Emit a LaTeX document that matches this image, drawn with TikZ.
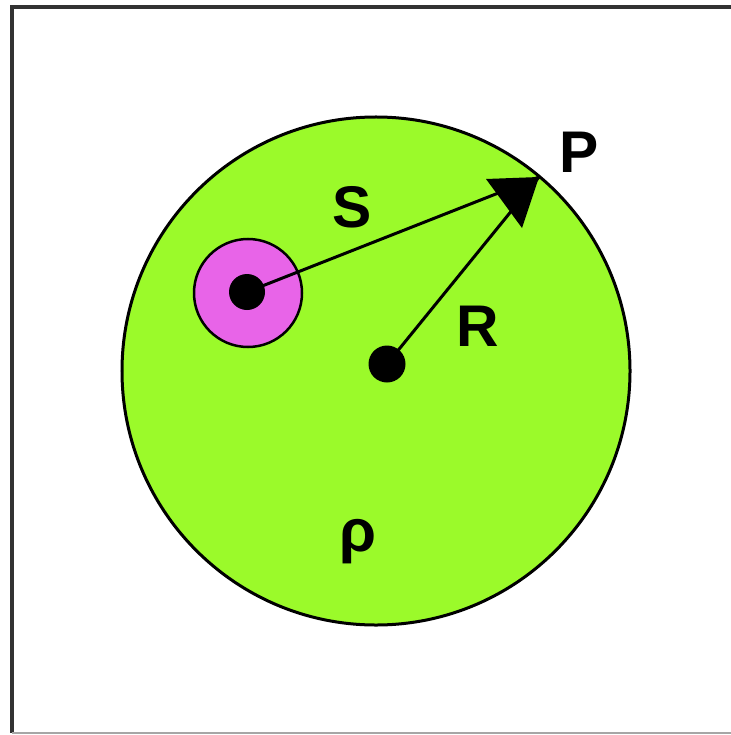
\documentclass[tikz,border=0pt]{standalone}
\usepackage{fontspec}
\setmainfont{Liberation Sans}
\definecolor{spheregreen}{RGB}{155,250,42}
\definecolor{sourcepink}{RGB}{232,100,232}
\definecolor{framegray}{RGB}{50,50,50}
\begin{document}
\begin{tikzpicture}[x=1bp,y=-1bp,
  framestyle/.style={draw=framegray,line width=3.5bp},
  ring/.style={circle,draw=black,inner sep=0pt},
  dot/.style={circle,fill=black,inner sep=0pt,minimum size=36bp},
  conn/.style={draw=black,line width=3bp},
  lbl/.style={inner sep=0pt,font=\fontsize{59}{62}\selectfont\bfseries},
  greek/.style={inner sep=0pt,font=\fontsize{60}{64}\selectfont\bfseries}]
\useasboundingbox (0,0) rectangle (731,735);
% frame
\draw[framestyle] (12,733) -- (12,7) -- (740,7);
\draw[draw=gray!70,line width=2bp] (12,733) -- (740,733);
% sphere
\node[ring,line width=3bp,fill=spheregreen,minimum size=508bp] (sphere) at (376,371) {};
% source
\node[ring,line width=2.5bp,fill=sourcepink,minimum size=108bp] (src) at (248,293) {};
\node[dot] (srcdot) at (247,292) {};
\node[dot,minimum size=37bp] (cdot) at (387,364) {};
% point P and the arrowhead
\coordinate (tip) at (539,177);
\coordinate (hl) at (486,179);
\coordinate (hb) at (522,228);
\draw[conn] (srcdot.center) -- (tip);
\draw[conn] (cdot.center) -- (tip);
\fill[black] (tip) -- (hl) -- (hb) -- cycle;
% labels
\node[lbl] (S) at (352.5,207) {S};
\node[lbl] (R) at (477.5,326) {R};
\node[lbl] (P) at (579,152) {P};
\node[greek] (rho) at (358,542) {ρ};
\end{tikzpicture}
\end{document}
